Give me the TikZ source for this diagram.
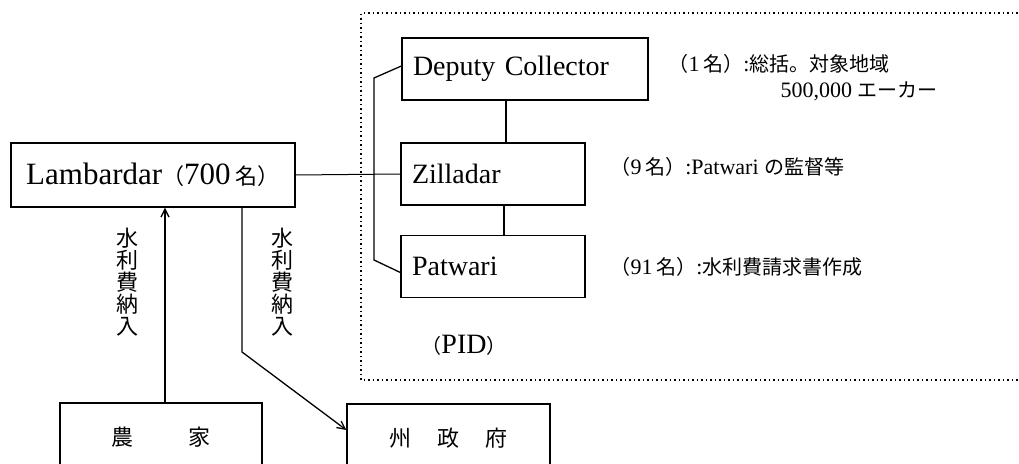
\documentclass[tikz,border=0pt]{standalone}
\usepackage{fontspec}
\setmainfont{Liberation Serif}
\newfontfamily\jpfont{Noto Sans CJK JP}
\usetikzlibrary{arrows.meta}
\newcommand\ja[1]{{\jpfont\fontsize{20}{24}\selectfont #1}}
\newcommand\jabig[1]{{\jpfont\fontsize{22}{26}\selectfont #1}}

\begin{document}
\begin{tikzpicture}[
    x=1pt, y=-1pt,
    line width=1.3pt,
    post node/.style={draw, minimum height=62pt, inner xsep=11pt, inner ysep=0pt, align=left, font=\fontsize{28}{32}\selectfont},
    note node/.style={anchor=west, inner sep=0pt, font=\fontsize{22}{24}\selectfont},
    pay label/.style={align=center, inner sep=0pt, font=\jpfont\fontsize{22}{22}\selectfont},
    ground node/.style={draw, minimum height=68pt, inner sep=0pt, font=\jpfont\fontsize{22}{26}\selectfont},
    flow arrow/.style={-{Straight Barb[length=8pt, width=8pt]}}
]
    \useasboundingbox (0,0) rectangle (1019,463);
    \clip (0,0) rectangle (1019,463);

    % --- PID frame ---
    \draw[line width=1.5pt, dash pattern=on 1.5pt off 3pt] (1040,13) -- (361,13) -- (361,380) -- (1040,380);
    \node[font=\fontsize{28}{32}\selectfont] (pid) at (464,345) {\ja{（}PID\ja{）}};

    % --- PID staff ---
    \node[post node, text width=224pt] (deputy) at (525,69) {Deputy Collector};
    \node[post node, text width=162pt] (zilladar) at (493,174) {Zilladar};
    \node[post node, text width=162pt] (patwari) at (493,266.5) {Patwari};

    \draw ([xshift=-19pt]deputy.south) -- ([xshift=13pt]zilladar.north);
    \draw ([xshift=11pt]zilladar.south) -- ([xshift=11pt]patwari.north);
    \draw ([yshift=3pt]deputy.west) -- (374,78) -- (374,260) -- ([yshift=-6pt]patwari.west);

    \node[note node] (deputy note) at (668,64) {\ja{（}1\,\ja{名）}:\ja{総括。対象地域}};
    \node[note node] (area note) at (780,91) {500,000 \ja{エーカー}};
    \node[note node] (zilladar note) at (610,167) {\ja{（}9\,\ja{名）}:Patwari \ja{の監督等}};
    \node[note node] (patwari note) at (610,267) {\ja{（}91\,\ja{名）}:\ja{水利費請求書作成}};

    % --- village side ---
    \node[post node, minimum width=284pt, minimum height=64pt, inner xsep=0pt, align=center, font=\fontsize{31}{34}\selectfont] (lambardar) at (153,175) {Lambardar\jabig{（}700\,\jabig{名）}};
    \draw[line width=1pt] (lambardar.east) -- (zilladar.west);

    \node[ground node, minimum width=202pt] (farm) at (161,437) {農\hspace{55pt}家};
    \node[ground node, minimum width=203pt] (state) at (448.5,438) {州\hspace{26pt}政\hspace{26pt}府};

    \coordinate (bend) at (242,352);
    \draw[flow arrow] ([xshift=4pt]farm.north) -- ([xshift=4pt]farm.north |- lambardar.south);
    \draw[flow arrow] ([xshift=89pt]lambardar.south) -- (bend) -- ([yshift=8pt]state.west);

    \node[pay label] (pay up) at (127,282) {水\\利\\費\\納\\入};
    \node[pay label] (pay down) at (282,282) {水\\利\\費\\納\\入};
\end{tikzpicture}
\end{document}
